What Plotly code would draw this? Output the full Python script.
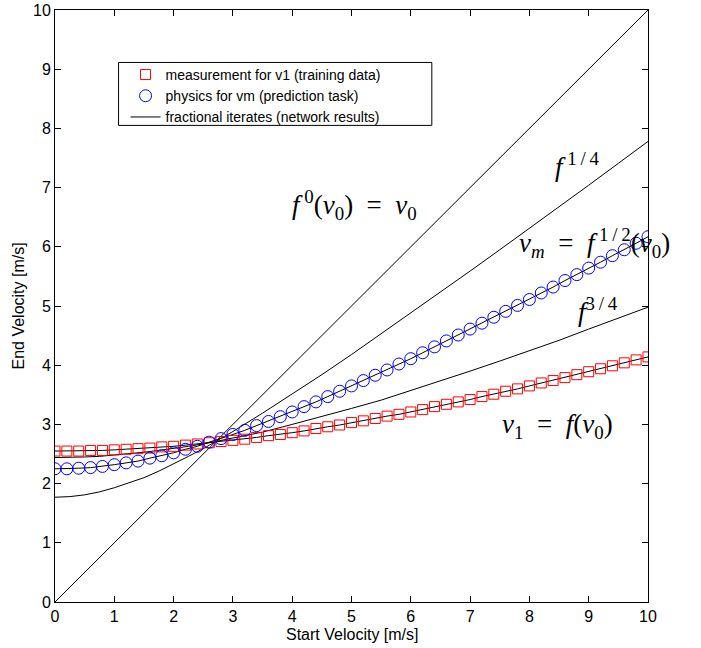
import plotly.graph_objects as go

# Start velocities of the markers (step 0.2 m/s)
v0_markers = [0.0, 0.2, 0.4, 0.6, 0.8, 1.0, 1.2, 1.4, 1.6, 1.8, 2.0, 2.2, 2.4, 2.6, 2.8,
              3.0, 3.2, 3.4, 3.6, 3.8, 4.0, 4.2, 4.4, 4.6, 4.8, 5.0, 5.2, 5.4, 5.6, 5.8,
              6.0, 6.2, 6.4, 6.6, 6.8, 7.0, 7.2, 7.4, 7.6, 7.8, 8.0, 8.2, 8.4, 8.6, 8.8,
              9.0, 9.2, 9.4, 9.6, 9.8, 10.0]

# measurement for v1 (training data) = f(v0)
v1_measured = [2.55, 2.55, 2.55, 2.56, 2.56, 2.57, 2.58, 2.59, 2.60, 2.62, 2.63, 2.65, 2.67,
               2.69, 2.71, 2.73, 2.75, 2.78, 2.81, 2.83, 2.86, 2.89, 2.93, 2.96, 2.99, 3.03,
               3.06, 3.10, 3.14, 3.17, 3.21, 3.25, 3.30, 3.34, 3.38, 3.42, 3.47, 3.51, 3.56,
               3.60, 3.65, 3.70, 3.74, 3.79, 3.84, 3.89, 3.94, 3.99, 4.04, 4.09, 4.14]

# physics for vm (prediction task) = f^(1/2)(v0)
vm_physics = [2.25, 2.25, 2.26, 2.27, 2.29, 2.32, 2.35, 2.38, 2.43, 2.47, 2.52, 2.58, 2.63,
              2.70, 2.76, 2.83, 2.90, 2.98, 3.05, 3.13, 3.21, 3.30, 3.38, 3.47, 3.56, 3.65,
              3.74, 3.83, 3.92, 4.02, 4.11, 4.21, 4.31, 4.41, 4.51, 4.61, 4.71, 4.81, 4.91,
              5.01, 5.11, 5.22, 5.32, 5.43, 5.53, 5.64, 5.74, 5.85, 5.95, 6.06, 6.17]

# fractional iterates (network results)
v0_curve = [0.0, 0.25, 0.5, 0.75, 1.0, 1.25, 1.5, 1.75, 2.0, 2.25, 2.5, 2.75, 3.0,
            3.5, 4.0, 4.5, 5.0, 5.5, 6.0, 6.5, 7.0, 7.5, 8.0, 8.5, 9.0, 9.5, 10.0]
f_quarter = [1.77, 1.78, 1.81, 1.86, 1.93, 2.01, 2.10, 2.21, 2.33, 2.46, 2.59, 2.73, 2.88,
             3.19, 3.51, 3.84, 4.18, 4.53, 4.88, 5.23, 5.59, 5.95, 6.31, 6.68, 7.04, 7.41, 7.78]
f_three_quarter = [2.44, 2.44, 2.45, 2.46, 2.48, 2.50, 2.53, 2.56, 2.59, 2.63, 2.67, 2.72, 2.77,
                   2.87, 3.00, 3.13, 3.27, 3.41, 3.57, 3.73, 3.90, 4.07, 4.24, 4.42, 4.61, 4.79, 4.98]
identity_x = [0.0, 10.0]
identity_y = [0.0, 10.0]

x_ticks = list(range(0, 11))
y_ticks = list(range(0, 11))

SANS = "Liberation Sans, Arial, sans-serif"
SERIF = "Liberation Serif, Times New Roman, serif"

fig = go.Figure()

# network result curves first (below the markers)
line_style = dict(color="black", width=1)
fig.add_trace(go.Scatter(x=identity_x, y=identity_y, mode="lines", line=line_style,
                         name="fractional iterates (network results)", legendrank=3))
fig.add_trace(go.Scatter(x=v0_curve, y=f_quarter, mode="lines", line=line_style, showlegend=False))
fig.add_trace(go.Scatter(x=v0_markers, y=vm_physics, mode="lines", line=line_style, showlegend=False))
fig.add_trace(go.Scatter(x=v0_curve, y=f_three_quarter, mode="lines", line=line_style, showlegend=False))
fig.add_trace(go.Scatter(x=v0_markers, y=v1_measured, mode="lines", line=line_style, showlegend=False))

fig.add_trace(go.Scatter(
    x=v0_markers, y=v1_measured, mode="markers",
    name="measurement for v1 (training data)", legendrank=1,
    marker=dict(symbol="square-open", size=10, color="#ff0000", line=dict(width=1, color="#ff0000")),
))
fig.add_trace(go.Scatter(
    x=v0_markers, y=vm_physics, mode="markers",
    name="physics for vm (prediction task)", legendrank=2,
    marker=dict(symbol="circle-open", size=12, color="#0000ff", line=dict(width=1, color="#0000ff")),
))

SP = "&#160;"
TH = "&#8201;"
ann_font = dict(family=SERIF, size=27, color="black")
annotations = [
    dict(x=5.05, y=6.70,
         text="<i>f</i><sup>" + SP + "0</sup>(<i>v</i><sub>0</sub>)" + SP * 2 + "=" + SP * 2 + "<i>v</i><sub>0</sub>"),
    dict(x=8.81, y=7.39, text="<i>f</i><sup>" + SP + "1" + TH + "/" + TH + "4</sup>"),
    dict(x=9.10, y=6.07,
         text="<i>v<sub>m</sub></i>" + SP * 2 + "=" + SP * 2 + "<i>f</i><sup>" + SP + "1" + TH + "/" + TH + "2</sup>(<i>v</i><sub>0</sub>)"),
    dict(x=9.15, y=4.94, text="<i>f</i><sup>3" + TH + "/" + TH + "4</sup>"),
    dict(x=8.47, y=2.97,
         text="<i>v</i><sub>1</sub>" + SP * 2 + "=" + SP * 2 + "<i>f</i>(<i>v</i><sub>0</sub>)"),
]
for a in annotations:
    a.update(xref="x", yref="y", showarrow=False, font=ann_font, xanchor="center", yanchor="middle")

title_font = dict(family=SANS, size=16, color="black")
annotations.append(dict(text="Start Velocity [m/s]", xref="paper", yref="paper", x=0.5, y=0,
                        yshift=-32, xanchor="center", yanchor="middle", showarrow=False,
                        font=title_font))
annotations.append(dict(text="End Velocity [m/s]", xref="paper", yref="paper", x=0, y=0.5,
                        xshift=-37.5, xanchor="center", yanchor="middle", showarrow=False,
                        textangle=-90, font=title_font))

axis_common = dict(
    showgrid=False, zeroline=False, showline=True, linecolor="black", linewidth=1,
    mirror="ticks", ticks="inside", ticklen=6, tickwidth=1, tickcolor="black",
    tickfont=dict(family=SANS, size=16, color="black"), automargin=False,
)

# legend frame (pixel box of the reference legend, expressed in paper units)
legend_box = dict(type="rect", xref="paper", yref="paper",
                  x0=(119 - 55.5) / 592.5, x1=(432 - 55.5) / 592.5,
                  y0=(602 - 125) / 592.5, y1=(602 - 62) / 592.5,
                  line=dict(color="black", width=1), fillcolor="white", layer="above")

fig.update_layout(
    width=701, height=648,
    margin=dict(l=55, r=53, t=10, b=46),
    paper_bgcolor="white", plot_bgcolor="white",
    font=dict(family=SANS, color="black"),
    xaxis=dict(range=[0, 10], tickmode="array", tickvals=x_ticks, **axis_common),
    yaxis=dict(range=[0, 10], tickmode="array", tickvals=y_ticks, **axis_common),
    legend=dict(x=(126 - 55.5) / 592.5, y=(602 - 58.5) / 592.5, xanchor="left", yanchor="top",
                bgcolor="rgba(0,0,0,0)", borderwidth=0,
                font=dict(family=SANS, size=14, color="black"), tracegroupgap=0),
    shapes=[legend_box],
    annotations=annotations,
    showlegend=True,
)

fig.write_html("out.html", config={"displayModeBar": False},
               post_script="document.body.style.margin='0px';")
